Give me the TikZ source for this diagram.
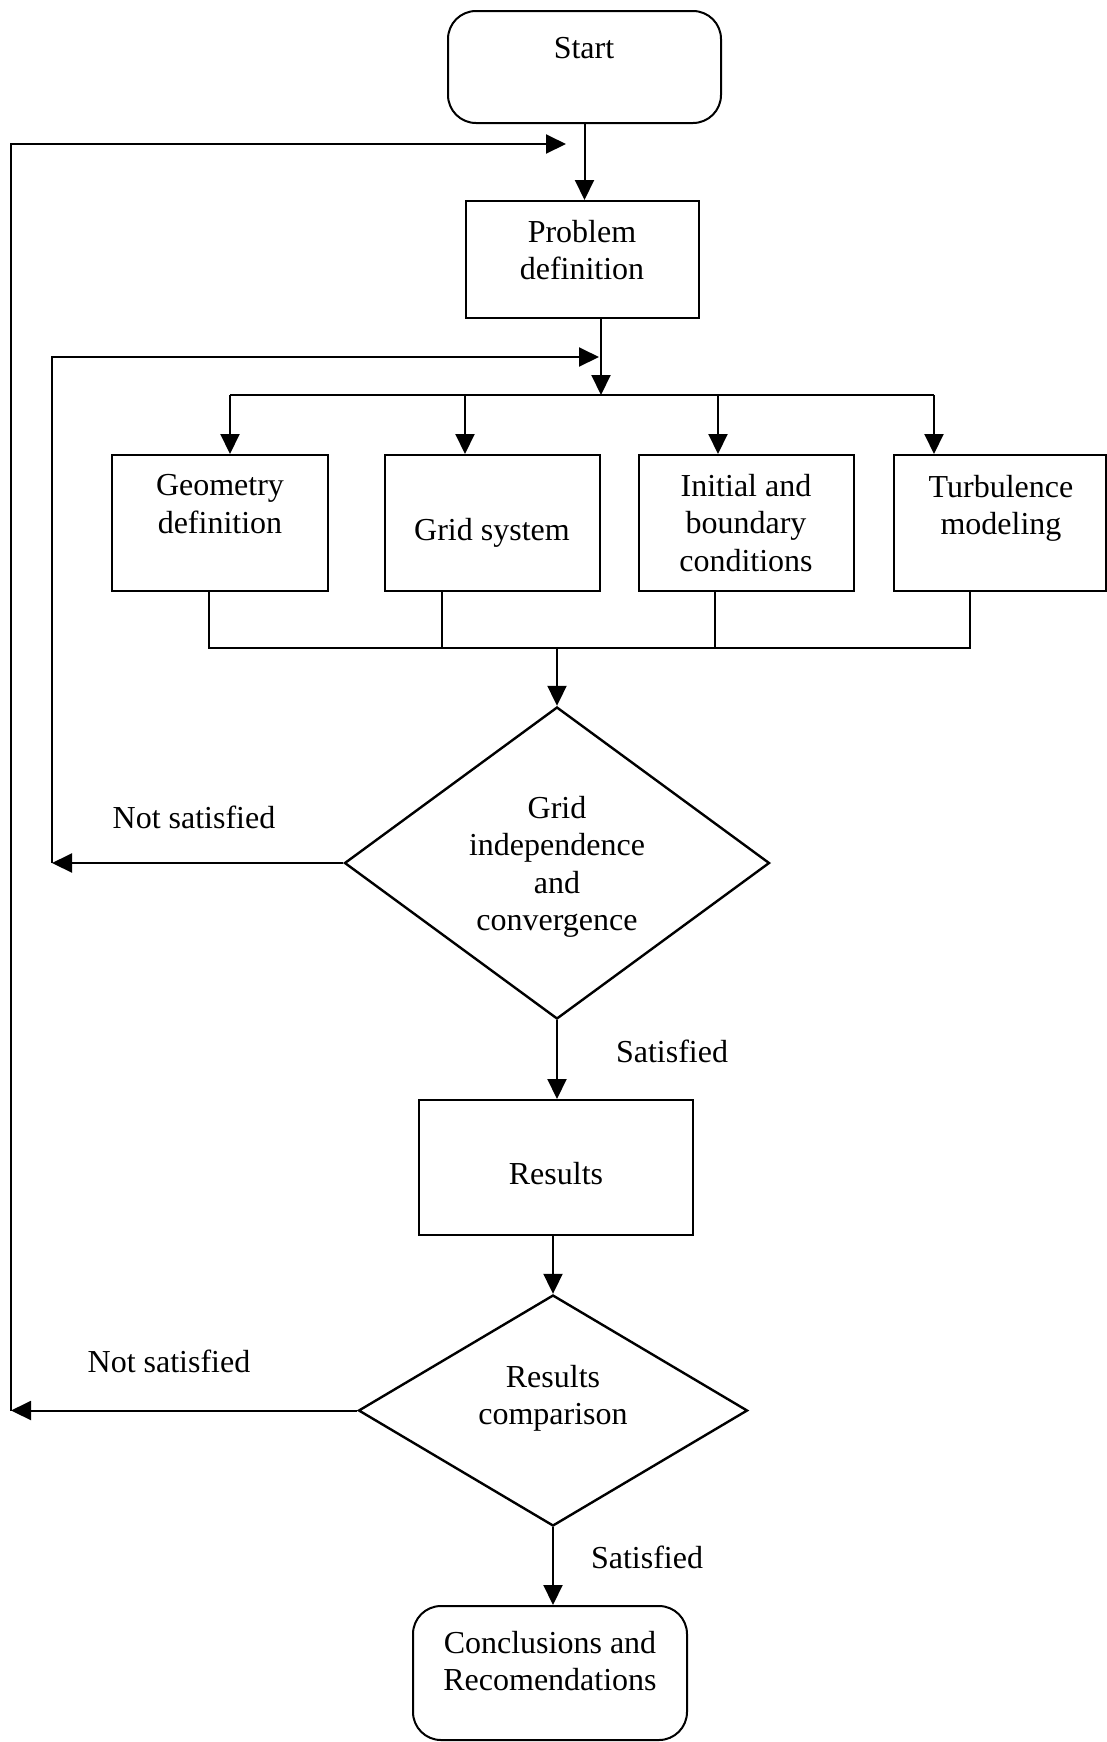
\documentclass[tikz,border=0pt]{standalone}
\usepackage{fontspec}
\setmainfont{Liberation Serif}
\usetikzlibrary{arrows.meta,shapes.geometric}
\begin{document}
\begin{tikzpicture}[x=0.5pt,y=-0.5pt,
  line width=1pt,
  box/.style={draw, rectangle, inner sep=0pt, line width=1pt},
  rbox/.style={box, rounded corners=14pt},
  dia/.style={draw, diamond, inner sep=0pt, line width=1.2pt},
  txt/.style={align=center, inner sep=0pt, font=\fontsize{16}{18.7}\selectfont},
  arr/.style={-{Triangle[length=10pt,width=9.5pt]}},
]
\useasboundingbox (0,0) rectangle (1107,1742);

% boxes
\node[rbox, minimum width=136.5pt, minimum height=56pt] (start) at (584.5,67) {};
\node[txt] (startT) at (584,48) {Start};
\node[box, minimum width=116.5pt, minimum height=58.5pt] (prob) at (582.5,259.5) {};
\node[txt] (probT) at (582,250) {Problem\\definition};

\node[box, minimum width=108pt, minimum height=68pt] (geo) at (220,523) {};
\node[txt] (geoT) at (220,504) {Geometry\\definition};
\node[box, minimum width=107.5pt, minimum height=68pt] (grid) at (492.5,523) {};
\node[txt] (gridT) at (492,532.5) {Grid system};
\node[box, minimum width=107.5pt, minimum height=68pt] (init) at (746.5,523) {};
\node[txt] (initT) at (746,523) {Initial and\\boundary\\conditions};
\node[box, minimum width=106pt, minimum height=68pt] (turb) at (1000,523) {};
\node[txt] (turbT) at (1001,508.5) {Turbulence\\modeling};

\node[dia, minimum width=212.5pt, minimum height=156pt] (d1) at (557,863) {};
\node[txt] (d1T) at (557,867) {Grid\\independence\\and\\convergence};

\node[box, minimum width=137pt, minimum height=67.5pt] (res) at (556,1167.5) {};
\node[txt] (resT) at (556,1174) {Results};

\node[dia, minimum width=194.5pt, minimum height=115.5pt] (d2) at (553,1410.5) {};
\node[txt] (d2T) at (553,1398) {Results\\comparison};

\node[rbox, minimum width=137pt, minimum height=67pt] (concl) at (550,1673) {};
\node[txt] (conclT) at (550,1661) {Conclusions and\\Recomendations};

% labels
\node[txt] (ns1) at (194,817) {Not satisfied};
\node[txt] (sat1) at (672,1051) {Satisfied};
\node[txt] (ns2) at (169,1361) {Not satisfied};
\node[txt] (sat2) at (647,1557) {Satisfied};

% main flow
\draw[arr] (start.south) -- (start.south |- prob.north);

\coordinate (split) at (601,395);
\draw[arr] (split |- prob.south) -- (split);

\coordinate (ga) at (230,395);
\coordinate (sa) at (465,395);
\coordinate (ia) at (718,395);
\coordinate (ta) at (934,395);
\draw (ga) -- (ta);
\draw[arr] (ga) -- (ga |- geo.north);
\draw[arr] (sa) -- (sa |- grid.north);
\draw[arr] (ia) -- (ia |- init.north);
\draw[arr] (ta) -- (ta |- turb.north);

\coordinate (gb) at (209,648);
\coordinate (sb) at (442,648);
\coordinate (ib) at (715,648);
\coordinate (tb) at (970,648);
\draw (gb |- geo.south) -- (gb) -- (tb) -- (tb |- turb.south);
\draw (sb |- grid.south) -- (sb);
\draw (ib |- init.south) -- (ib);
\coordinate (mg) at (557,648);
\draw[arr] (mg) -- (d1.north);

\draw[arr] (d1.south) -- (d1.south |- res.north);
\draw[arr] (res.south -| d2.north) -- (d2.north);
\draw[arr] (d2.south) -- (d2.south |- concl.north);

% loop 2 (grid independence)
\coordinate (l2a) at (52,863);
\coordinate (l2b) at (52,357);
\coordinate (l2c) at (599,357);
\draw[arr] (d1.west) -- (l2a);
\draw[arr] (l2a) -- (l2b) -- (l2c);

% loop 1 (results comparison)
\coordinate (l1a) at (11,1410.5);
\coordinate (l1b) at (11,144);
\coordinate (l1c) at (566,144);
\draw[arr] (d2.west) -- (l1a);
\draw[arr] (l1a) -- (l1b) -- (l1c);
\end{tikzpicture}
\end{document}
